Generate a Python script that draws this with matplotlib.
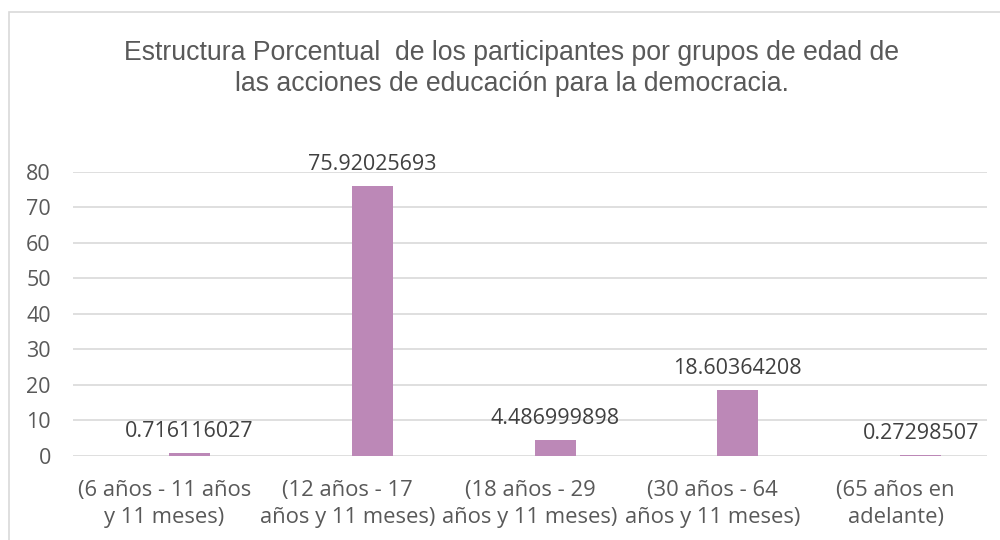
import matplotlib
matplotlib.use("Agg")
import matplotlib.pyplot as plt
import matplotlib.patches as mpatches
import numpy as np

# Data
categories = [
    "(6 años - 11 años\ny 11 meses)",
    "(12 años - 17\naños y 11 meses)",
    "(18 años - 29\naños y 11 meses)",
    "(30 años - 64\naños y 11 meses)",
    "(65 años en\nadelante)",
]
values = [0.716116027, 75.92025693, 4.486999898, 18.60364208, 0.27298507]
value_labels = ["0.716116027", "75.92025693", "4.486999898", "18.60364208", "0.27298507"]

BAR_COLOR = "#bc88b7"
GRID_COLOR = "#d9d9d9"
TEXT_COLOR = "#595959"

fig = plt.figure(figsize=(10, 5.4), dpi=100)
ax = fig.add_axes([0.073, 0.1556, 0.914, 0.526])

# outer chart frame (partially cut off at right/bottom)
frame = mpatches.Rectangle((0.009, -0.2), 1.2, 1.2 - 12 / 540,
                           transform=fig.transFigure, fill=False,
                           edgecolor=GRID_COLOR, linewidth=1.2)
fig.add_artist(frame)

x = np.arange(len(categories))
offset = 0.137
bars = ax.bar(x + offset, values, width=0.224, color=BAR_COLOR, zorder=3)

for b, lab in zip(bars, value_labels):
    ax.annotate(lab, (b.get_x() + b.get_width() / 2, b.get_height()),
                xytext=(0, 8), textcoords="offset points", ha="center",
                va="bottom", fontsize=15.5, color="#404040",
                family="Open Sans", annotation_clip=False)

ax.set_xlim(-0.5, len(categories) - 0.5)
ax.set_ylim(0, 80)
ax.set_yticks(range(0, 81, 10))
ax.yaxis.grid(True, color=GRID_COLOR, linewidth=1.2, zorder=0)
ax.set_axisbelow(True)
for s in ax.spines.values():
    s.set_visible(False)
ax.tick_params(length=0)
ax.tick_params(axis="y", pad=16, labelsize=15.5, labelcolor=TEXT_COLOR)
ax.tick_params(axis="x", pad=17, labelsize=15.8, labelcolor=TEXT_COLOR)
ax.set_xticks(x)
ax.set_xticklabels(categories, linespacing=1.4)
for t in ax.get_xticklabels() + ax.get_yticklabels():
    t.set_family("Open Sans")

fig.text(0.512, 0.874,
         "Estructura Porcentual  de los participantes por grupos de edad de\n"
         "las acciones de educación para la democracia.",
         ha="center", va="center", fontsize=19.2, color=TEXT_COLOR,
         family="Liberation Sans", linespacing=1.25)

fig.savefig("out.png", dpi=100, facecolor="white")
